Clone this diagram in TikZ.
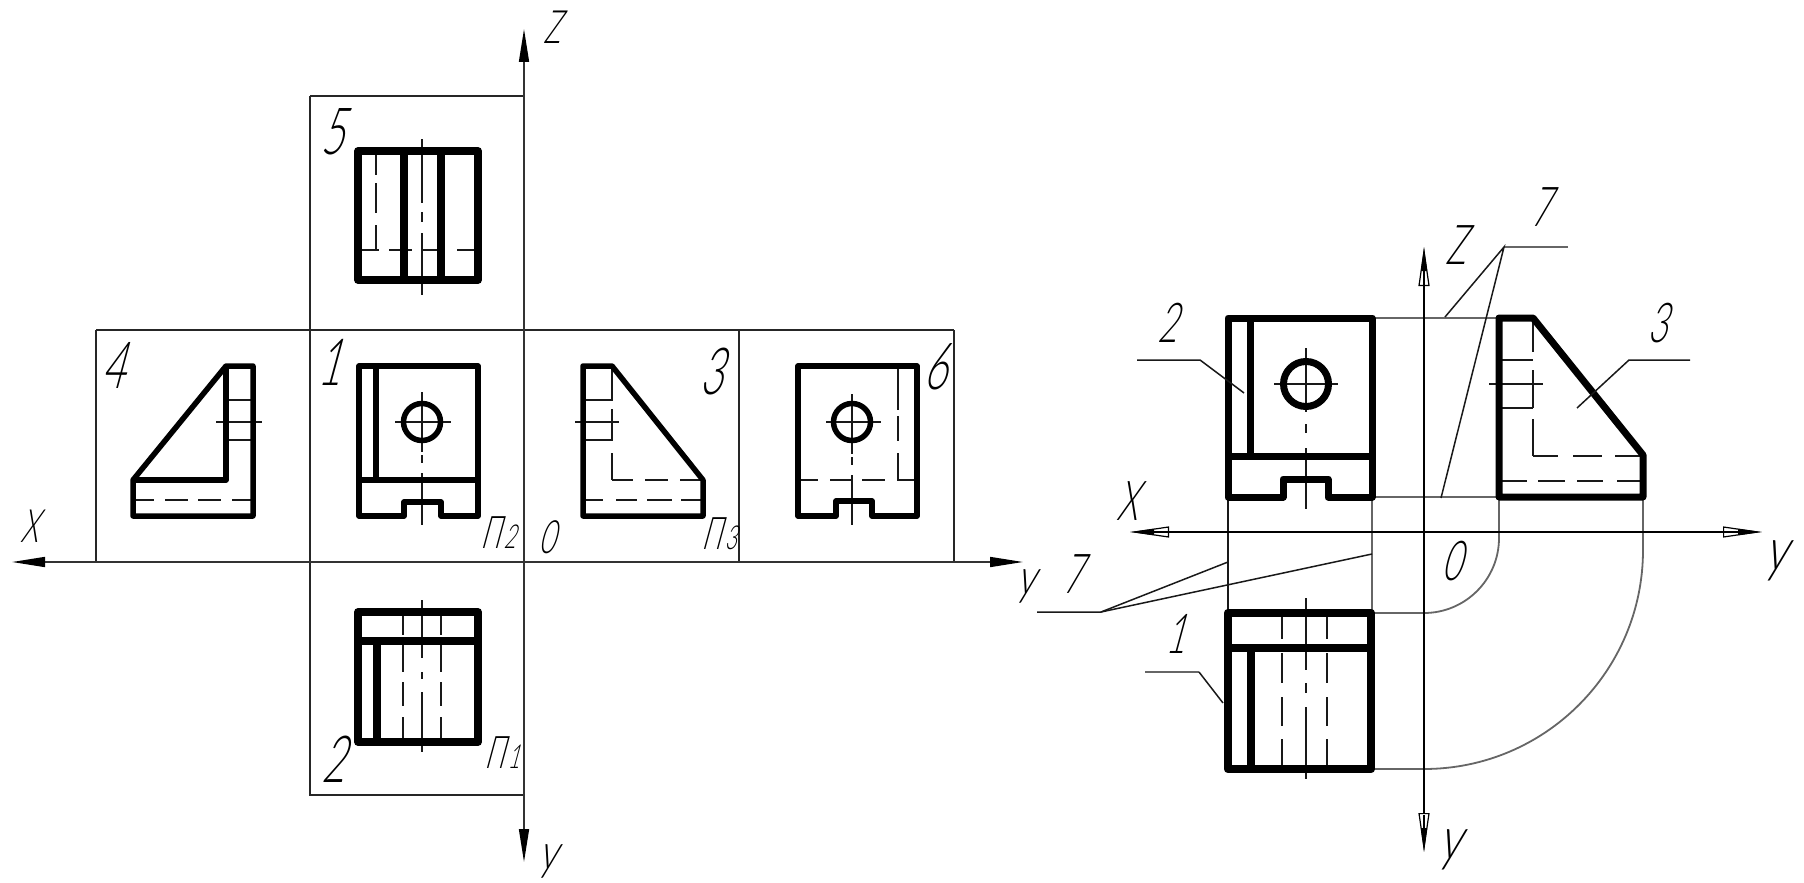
\documentclass[tikz,border=0pt]{standalone}
\usepackage{fontspec}
\usetikzlibrary{arrows.meta}
\newfontfamily\gost[FakeSlant=.27,FakeStretch=.62]{Lato Light}
\newfontfamily\gostw[FakeSlant=.27,FakeStretch=.75]{Lato Light}
\tikzset{
  heavy/.style={line width=7.5pt,line join=round,black},
  medium/.style={line width=5.5pt,line join=round,black},
  rheavy/.style={line width=8.5pt,line join=round,black},
  rmedium/.style={line width=7pt,line join=round,black},
  fine/.style={line width=1.5pt,color=black!90},
  frame/.style={line width=1.7pt,color=black!85},
  grey/.style={line width=1.8pt,color=black!60},
  dp/.style={dash pattern=#1 off 400pt},
  axisL/.style={line width=1.6pt,color=black!80,-{Triangle[length=33pt,width=10pt,color=black]}},
  axisR/.style={line width=1.5pt,color=black,-{Triangle[open,length=39pt,width=11pt,line width=1.2pt,fill=none]}},
  solidtip/.style={line width=1.5pt,black,-{Triangle[length=24pt,width=6pt]}},
  txtB/.style={inner sep=0pt,text=black,font=\gost\fontsize{65}{65}\selectfont},
  txtM/.style={inner sep=0pt,text=black,font=\gost\fontsize{55}{55}\selectfont},
  txtS/.style={inner sep=0pt,text=black,font=\gost\fontsize{46}{46}\selectfont},
  txtP/.style={inner sep=0pt,text=black,font=\gost\fontsize{45}{45}\selectfont},
  txtYs/.style={inner sep=0pt,text=black,font=\gostw\fontsize{50}{50}\selectfont},
  txtYm/.style={inner sep=0pt,text=black,font=\gostw\fontsize{60}{60}\selectfont},
}
\newcommand{\pisub}[1]{П\kern3pt{\fontsize{33}{33}\selectfont #1}}
\begin{document}
\begin{tikzpicture}[x=1pt,y=-1pt]
\useasboundingbox (0,0) rectangle (1804,883);
% ---------- left: frames
\draw[frame] (310,96) -- (524,96);
\draw[frame] (310,96) -- (310,795) -- (524,795);
\draw[frame] (96,330) -- (954,330);
\draw[frame] (96,330) -- (96,562);
\draw[frame] (739,330) -- (739,562);
\draw[frame] (954,330) -- (954,562);
% axes
\draw[axisL] (524,562) -- (12,562);
\draw[axisL] (524,562) -- (1023,562);
\draw[axisL] (524,562) -- (524,29);
\draw[axisL] (524,562) -- (524,862);
% ---------- view 5
\draw[fine,dp={on 64pt off 9pt on 10pt off 11pt on 62pt}] (422,139) -- (422,295);
\draw[fine,dp={on 24pt off 8pt on 30pt off 12pt on 25pt}] (376,151) -- (376,250);
\draw[fine,dp={on 21pt off 10pt on 23pt off 11pt on 14pt off 20pt on 20pt}] (358,250) -- (478,250);
\draw[heavy] (358,151) rectangle (478,280);
\draw[heavy] (404,151) -- (404,280);
\draw[heavy] (441,151) -- (441,280);
% ---------- view 1
\draw[fine,dp={on 60pt off 3pt on 8pt off 10pt on 52pt}] (422,392) -- (422,525);
\draw[fine] (395,422) -- (451,422);
\draw[medium] (359,516) -- (404,516) -- (404,502) -- (441,502) -- (441,516) -- (478,516) -- (478,366) -- (359,366) -- cycle;
\draw[medium] (376,366) -- (376,480);
\draw[medium] (359,480) -- (478,480);
\draw[medium] (422,422) circle[radius=18.5pt];
% ---------- view 4
\draw[fine,dp={on 21pt off 11pt on 23pt off 10pt on 23pt off 11pt on 21pt}] (133,500) -- (253,500);
\draw[fine] (226,400) -- (253,400);
\draw[fine] (226,440) -- (253,440);
\draw[fine] (216,422) -- (262,422);
\draw[medium] (133,480) -- (226,366) -- (253,366) -- (253,516) -- (133,516) -- cycle;
\draw[medium] (226,366) -- (226,480) -- (133,480);
% ---------- view 3
\draw[fine,dp={on 35pt off 8pt on 32pt off 12pt on 28pt}] (612,366) -- (612,480);
\draw[fine,dp={on 21pt off 12pt on 23pt off 12pt on 23pt}] (612,480) -- (703,480);
\draw[fine,dp={on 20pt off 13pt on 21pt off 10pt on 25pt off 9pt on 22pt}] (583,500) -- (703,500);
\draw[fine] (583,400) -- (612,400);
\draw[fine] (583,440) -- (612,440);
\draw[fine] (575,422) -- (619,422);
\draw[medium] (583,366) -- (612,366) -- (703,480) -- (703,516) -- (583,516) -- cycle;
% ---------- view 6
\draw[fine,dp={on 60pt off 3pt on 8pt off 10pt on 50pt}] (852,394) -- (852,525);
\draw[fine] (826,422) -- (881,422);
\draw[fine,dp={on 44pt off 6pt on 25pt off 12pt on 28pt}] (898,366) -- (898,480);
\draw[fine,dp={on 20pt off 12pt on 22pt off 10pt on 23pt off 12pt on 20pt}] (798,480) -- (917,480);
\draw[medium] (798,516) -- (836,516) -- (836,501) -- (872,501) -- (872,516) -- (917,516) -- (917,366) -- (798,366) -- cycle;
\draw[medium] (852,422) circle[radius=18.5pt];
% ---------- view 2
\draw[fine,dp={on 23pt off 10pt on 27pt off 10pt on 24pt off 11pt on 25pt}] (403,612) -- (403,742);
\draw[fine,dp={on 23pt off 10pt on 27pt off 10pt on 24pt off 11pt on 25pt}] (441,612) -- (441,742);
\draw[fine,dp={on 58pt off 14pt on 7pt off 13pt on 60pt}] (422,600) -- (422,752);
\draw[heavy] (358,612) rectangle (478,742);
\draw[heavy] (358,641) -- (478,641);
\draw[heavy] (377,641) -- (377,742);
% labels left
\node[txtB] (n5) at (332,132) {5};
\node[txtB] (n1) at (329,362) {1};
\node[txtB] (n4) at (113,365) {4};
\node[txtB] (n3) at (711,372) {3};
\node[txtB] (n6) at (935,367) {6};
\node[txtB] (n2) at (333,759) {2};
\node[txtP] (p2) at (498,533) {\pisub{2}};
\node[txtP] (p3) at (719,534) {\pisub{3}};
\node[txtP] (p1) at (502,753) {\pisub{1}};
\node[txtS] (ox) at (29,526) {X};
\node[txtYs] (oy) at (1026,586) {y};
\node[txtS] (oz) at (552,27) {Z};
\node[txtS] (oo) at (547,537) {0};
\node[txtYs] (oyb) at (548,861) {y};
% ---------- right: construction lines
\draw[grey] (1372,318) -- (1499,318);
\draw[grey] (1372,497) -- (1499,497);
\draw[fine] (1228,497) -- (1228,613);
\draw[grey] (1372,497) -- (1372,613);
\draw[grey] (1372,613) -- (1424,613) .. controls (1465.4,613) and (1499,579.4) .. (1499,538) -- (1499,497);
\draw[grey] (1372,769) -- (1424,769) .. controls (1545,769) and (1643,671) .. (1643,550) -- (1643,497);
% axes
\draw[axisR] (1424,532) -- (1424,247);
\draw[axisR] (1424,532) -- (1424,852);
\draw[axisR] (1424,532) -- (1130,532);
\draw[axisR] (1424,532) -- (1762,532);
\draw[solidtip] (1424,285) -- (1424,247);
\draw[solidtip] (1424,815) -- (1424,852);
\draw[solidtip] (1168,532) -- (1130,532);
\draw[solidtip] (1724,532) -- (1762,532);
% ---------- right: front view
\draw[fine,dp={on 64pt off 12pt on 9pt off 15pt on 61pt}] (1306,348) -- (1306,509);
\draw[fine] (1274,384) -- (1338,384);
\draw[rmedium] (1228,497) -- (1283,497) -- (1283,479) -- (1328,479) -- (1328,497) -- (1372,497) -- (1372,318) -- (1228,318) -- cycle;
\draw[rmedium] (1250,318) -- (1250,456);
\draw[rmedium] (1228,456) -- (1372,456);
\draw[rmedium] (1306,384) circle[radius=22.5pt];
% ---------- right: side view
\draw[fine,dp={on 34pt off 18pt on 38pt off 11pt on 37pt}] (1533,318) -- (1533,456);
\draw[fine,dp={on 25pt off 15pt on 29pt off 13pt on 28pt}] (1533,456) -- (1643,456);
\draw[fine,dp={on 28pt off 11pt on 27pt off 12pt on 26pt off 14pt on 26pt}] (1499,481) -- (1643,481);
\draw[fine] (1499,360) -- (1533,360);
\draw[fine] (1499,408) -- (1533,408);
\draw[fine] (1489,384) -- (1543,384);
\draw[rmedium] (1499,318) -- (1533,318) -- (1643,455) -- (1643,497) -- (1499,497) -- cycle;
% ---------- right: top view
\draw[fine,dp={on 26pt off 14pt on 30pt off 14pt on 29pt off 13pt on 30pt}] (1282,613) -- (1282,769);
\draw[fine,dp={on 26pt off 14pt on 30pt off 14pt on 29pt off 13pt on 30pt}] (1327,613) -- (1327,769);
\draw[fine,dp={on 72pt off 13pt on 10pt off 14pt on 72pt}] (1306,598) -- (1306,779);
\draw[rheavy] (1228,613) rectangle (1371,769);
\draw[rheavy] (1228,648) -- (1371,648);
\draw[rheavy] (1251,648) -- (1251,769);
% ---------- leaders
\coordinate (L2a) at (1137,360); \coordinate (L2b) at (1200,360); \coordinate (L2c) at (1244,393);
\draw[fine] (L2a) -- (L2b) -- (L2c);
\coordinate (L3a) at (1690,360); \coordinate (L3b) at (1629,360); \coordinate (L3c) at (1577,408);
\draw[fine] (L3a) -- (L3b) -- (L3c);
\coordinate (L1a) at (1145,672); \coordinate (L1b) at (1199,672); \coordinate (L1c) at (1223,703);
\draw[grey] (L1a) -- (L1b);
\draw[fine] (L1b) -- (L1c);
\coordinate (U7a) at (1568,247); \coordinate (U7b) at (1504,247);
\coordinate (U7c) at (1445,317); \coordinate (U7d) at (1441,498);
\draw[grey] (U7a) -- (U7b);
\draw[fine] (U7c) -- (U7b) -- (U7d);
\coordinate (D7a) at (1037,612); \coordinate (D7b) at (1101,612);
\coordinate (D7c) at (1228,562); \coordinate (D7d) at (1372,554);
\draw[fine] (D7a) -- (D7b) -- (D7c);
\draw[fine] (D7b) -- (D7d);
% labels right
\node[txtM] (r2) at (1167,323) {2};
\node[txtM] (r3) at (1657,323) {3};
\node[txtM] (r1) at (1175,634) {1};
\node[txtM] (r7u) at (1540,207) {7};
\node[txtM] (r7d) at (1072,574) {7};
\node[txtM] (rz) at (1456,245) {Z};
\node[txtM] (rx) at (1127,501) {X};
\node[txtM] (ro) at (1451,561) {0};
\node[txtYm] (ry) at (1776,561) {y};
\node[txtYm] (ryb) at (1450,850) {y};
\end{tikzpicture}
\end{document}
